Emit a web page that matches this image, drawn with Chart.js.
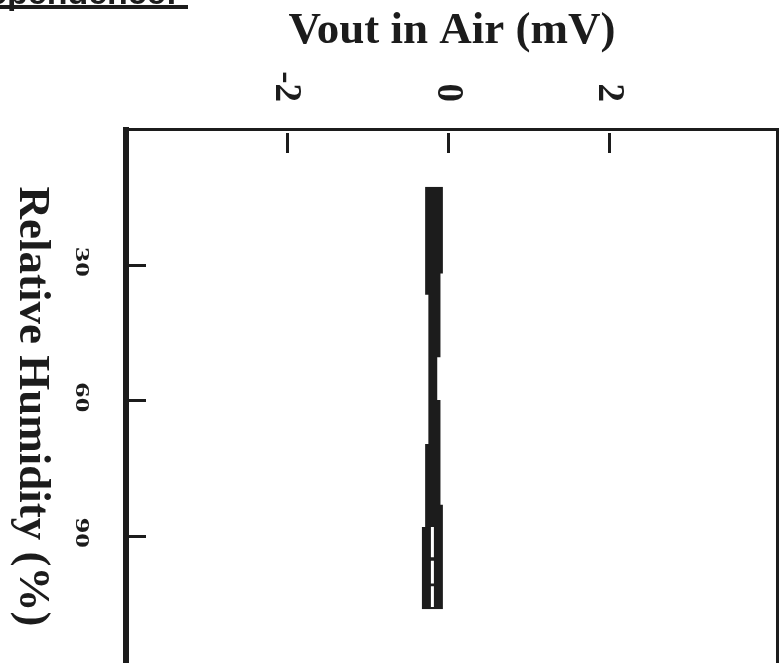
<!DOCTYPE html>
<html>
<head>
<meta charset="utf-8">
<title>Vout in Air vs Relative Humidity</title>
<script src="https://cdn.jsdelivr.net/npm/chart.js@4.4.1/dist/chart.umd.min.js"></script>
<style>
  html, body { margin: 0; padding: 0; background: #fff; overflow: hidden; }
  #wrap { position: absolute; left: 0; top: 0; width: 800px; height: 720px; }
</style>
</head>
<body>
<div id="wrap"><canvas id="chart" width="800" height="720"></canvas></div>
<script>
// RH (%) where the low / high edge of the Vout trace changes, and the Vout (mV) in between
const lowEdgeRH = [12.7, 36.6, 69.6, 88.0, 106.2];
const lowEdgeV = [-0.29, -0.25, -0.29, -0.33];
const highEdgeRH = [12.7, 31.9, 50.4, 59.9, 83.1, 106.2];
const highEdgeV = [-0.07, -0.10, -0.14, -0.10, -0.07];
// gap between the two traces at high RH
const splitRH = [[88.0, 94.7], [95.5, 100.5], [101.1, 105.7]];
const splitV = -0.20;

const voutTicks = [-2, 0, 2];
const voutLabels = ['-2', '0', '2'];
const rhTicks = [30, 60, 90];
const rhLabels = ['30', '60', '90'];

const INK = '#1c1c1c';
const SERIF = '"Liberation Serif", "Times New Roman", serif';

// step outline: each value holds from rh[i] to rh[i+1]
function stepEdge(rh, v) {
  const pts = [];
  v.forEach((val, i) => {
    pts.push({x: val, y: rh[i]});
    pts.push({x: val, y: rh[i + 1]});
  });
  return pts;
}

const splitData = [];
splitRH.forEach(([a, b]) => {
  splitData.push({x: splitV, y: a}, {x: splitV, y: b}, {x: null, y: (b + 0.3)});
});

// text rotated a quarter turn clockwise (reads top to bottom)
function textCW(ctx, str, x, y, align, sy) {
  ctx.save();
  ctx.translate(x, y);
  ctx.rotate(Math.PI / 2);
  if (sy) ctx.scale(1, sy);
  ctx.textAlign = align;
  ctx.textBaseline = 'alphabetic';
  ctx.fillText(str, 0, 0);
  ctx.restore();
}

const frame = {
  id: 'frame',
  afterDraw(chart) {
    const {ctx, chartArea: a, scales: {x, y}} = chart;
    ctx.save();
    ctx.fillStyle = INK;

    // right side of the box
    ctx.fillRect(Math.round(a.right - 1.5), a.top - 1.5, 3, a.bottom - a.top + 3);

    // tick marks point into the plot
    voutTicks.forEach(v => {
      const px = Math.round(x.getPixelForValue(v) - 1.5);
      ctx.fillRect(px, Math.round(a.top + 3.5), 3, 20);
    });
    rhTicks.forEach(v => {
      const py = Math.round(y.getPixelForValue(v) - 1.5);
      ctx.fillRect(Math.round(a.left + 3), py, 17, 3);
    });

    // tick labels
    ctx.font = 'bold 37px ' + SERIF;
    voutTicks.forEach((v, i) => {
      textCW(ctx, voutLabels[i], x.getPixelForValue(v) - 11, 102, 'right');
    });
    ctx.font = 'bold 30px ' + SERIF;
    rhTicks.forEach((v, i) => {
      textCW(ctx, rhLabels[i], 76, y.getPixelForValue(v) - 3, 'center', 0.66);
    });

    // axis titles
    ctx.font = 'bold 45px ' + SERIF;
    ctx.textAlign = 'center';
    ctx.textBaseline = 'alphabetic';
    ctx.fillText('Vout in Air (mV)', 452, 43);
    textCW(ctx, 'Relative Humidity (%)', 20, 406.5, 'center');

    // heading, mostly off the top of the page
    ctx.font = 'bold 34px "Liberation Sans", Arial, sans-serif';
    ctx.textAlign = 'right';
    ctx.fillText('Dependence:', 177, 4);
    ctx.fillRect(0, 5, 188, 4);
    ctx.restore();
  }
};

new Chart(document.getElementById('chart'), {
  type: 'line',
  data: {
    datasets: [
      {
        label: 'low edge',
        data: stepEdge(lowEdgeRH, lowEdgeV),
        borderColor: 'rgba(0,0,0,0)',
        borderWidth: 1,
        pointRadius: 0,
        fill: false
      },
      {
        label: 'high edge',
        data: stepEdge(highEdgeRH, highEdgeV),
        borderColor: 'rgba(0,0,0,0)',
        borderWidth: 1,
        pointRadius: 0,
        backgroundColor: INK,
        fill: '-1'
      },
      {
        label: 'split',
        data: splitData,
        borderColor: '#ffffff',
        borderWidth: 3,
        pointRadius: 0,
        fill: false,
        spanGaps: false,
        order: -1
      }
    ]
  },
  options: {
    indexAxis: 'y',
    responsive: false,
    animation: false,
    events: [],
    layout: { padding: { left: 126, top: 129.5, right: 22.5, bottom: 3.3 } },
    elements: { line: { tension: 0 } },
    plugins: {
      legend: { display: false },
      tooltip: { enabled: false }
    },
    scales: {
      x: {
        type: 'linear',
        position: 'top',
        min: -4,
        max: 4.08,
        ticks: { display: false },
        grid: { display: false, drawTicks: false },
        border: { display: true, color: INK, width: 3 }
      },
      y: {
        type: 'linear',
        reverse: true,
        min: 0,
        max: 130,
        ticks: { display: false },
        grid: { display: false, drawTicks: false },
        border: { display: true, color: INK, width: 6 }
      }
    }
  },
  plugins: [frame]
});
</script>
</body>
</html>
